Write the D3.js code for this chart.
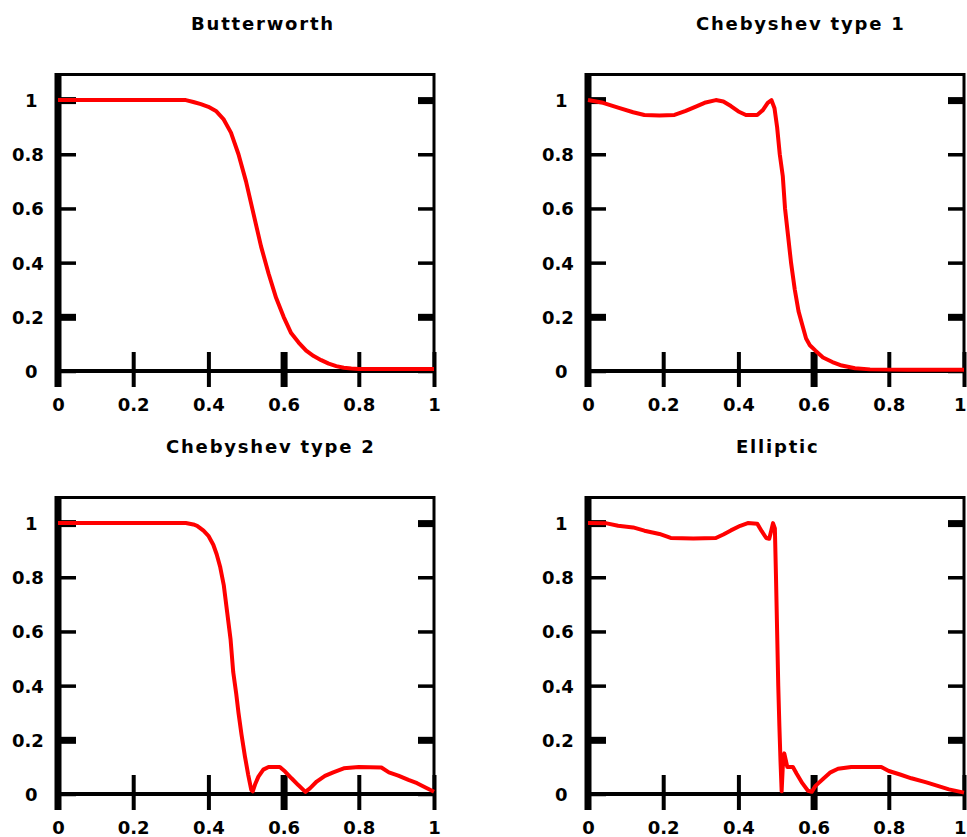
<!DOCTYPE html>
<html>
<head>
<meta charset="utf-8">
<script src="https://cdn.jsdelivr.net/npm/d3@7"></script>
<style>
  html, body { margin: 0; padding: 0; background: #fff; }
  svg { display: block; }
</style>
</head>
<body>
<script>
const TITLES = ["Butterworth", "Chebyshev type 1", "Chebyshev type 2", "Elliptic"];
const X_TICKS = [0, 0.2, 0.4, 0.6, 0.8, 1];
const Y_TICKS = [0, 0.2, 0.4, 0.6, 0.8, 1];

// [normalised frequency, |H|]
const butterworth = [
    [0, 1], [0.34, 1], [0.36, 0.993], [0.38, 0.985], [0.40, 0.975], [0.42, 0.96],
    [0.44, 0.93], [0.46, 0.88], [0.48, 0.80], [0.50, 0.70], [0.52, 0.58], [0.54, 0.46],
    [0.56, 0.36], [0.58, 0.27], [0.60, 0.20], [0.62, 0.14], [0.64, 0.105], [0.66, 0.075],
    [0.68, 0.055], [0.70, 0.04], [0.72, 0.027], [0.74, 0.018], [0.76, 0.012], [0.78, 0.009],
    [0.80, 0.007], [1, 0.007]
];
const cheby1 = [
    [0, 1], [0.04, 0.99], [0.08, 0.972], [0.12, 0.955], [0.15, 0.945], [0.19, 0.943],
    [0.23, 0.945], [0.26, 0.96], [0.29, 0.978], [0.31, 0.99], [0.34, 1.0], [0.36, 0.995],
    [0.38, 0.978], [0.40, 0.958], [0.42, 0.945], [0.45, 0.945], [0.465, 0.963], [0.478, 0.99],
    [0.488, 1.0], [0.496, 0.97], [0.503, 0.9], [0.51, 0.8], [0.518, 0.72], [0.524, 0.6],
    [0.532, 0.5], [0.54, 0.4], [0.55, 0.3], [0.56, 0.22], [0.57, 0.17], [0.58, 0.12],
    [0.59, 0.095], [0.605, 0.075], [0.625, 0.05], [0.65, 0.033], [0.675, 0.02], [0.71, 0.01],
    [0.75, 0.006], [0.85, 0.005], [1, 0.005]
];
const cheby2 = [
    [0, 1], [0.34, 1], [0.36, 0.995], [0.37, 0.99], [0.387, 0.972], [0.40, 0.953],
    [0.413, 0.92], [0.422, 0.885], [0.431, 0.84], [0.441, 0.77], [0.45, 0.67], [0.459, 0.57],
    [0.466, 0.45], [0.474, 0.37], [0.48, 0.30], [0.488, 0.22], [0.497, 0.14], [0.506, 0.07],
    [0.514, 0.015], [0.518, 0.01], [0.524, 0.035], [0.533, 0.064], [0.546, 0.09], [0.56, 0.1],
    [0.59, 0.1], [0.604, 0.083], [0.621, 0.058], [0.639, 0.033], [0.658, 0.008], [0.67, 0.021],
    [0.688, 0.046], [0.71, 0.067], [0.732, 0.08], [0.76, 0.095], [0.80, 0.1], [0.86, 0.098],
    [0.88, 0.08], [0.905, 0.068], [0.932, 0.052], [0.955, 0.04], [0.976, 0.025], [1, 0.008]
];
const elliptic = [
    [0, 1], [0.05, 0.999], [0.08, 0.99], [0.12, 0.984], [0.15, 0.972], [0.19, 0.96],
    [0.22, 0.945], [0.28, 0.943], [0.34, 0.945], [0.36, 0.958], [0.38, 0.973], [0.405, 0.99],
    [0.425, 1.0], [0.45, 0.998], [0.462, 0.97], [0.474, 0.945], [0.482, 0.942], [0.487, 0.97],
    [0.492, 1.0], [0.497, 0.98], [0.50, 0.8], [0.503, 0.6], [0.506, 0.4], [0.509, 0.25],
    [0.512, 0.12], [0.515, 0.01], [0.518, 0.1], [0.522, 0.15], [0.53, 0.1], [0.545, 0.1],
    [0.555, 0.075], [0.57, 0.04], [0.585, 0.012], [0.595, 0.008], [0.605, 0.03], [0.625, 0.055],
    [0.645, 0.08], [0.665, 0.093], [0.70, 0.1], [0.78, 0.1], [0.80, 0.085], [0.83, 0.072],
    [0.86, 0.058], [0.90, 0.043], [0.93, 0.03], [0.96, 0.017], [1, 0.005]
];
const SERIES = [butterworth, cheby1, cheby2, elliptic];

const WIDTH = 967;
const HEIGHT = 837;
const PLOT_W = 376;
const PLOT_H = 298;
const ORIGINS = [
    {left: 58, top: 73},
    {left: 588, top: 73},
    {left: 58, top: 496},
    {left: 588, top: 496}
];
const FONT = "'DejaVu Sans', sans-serif";

var svg = d3.select("body").append("svg")
    .attr("width", WIDTH)
    .attr("height", HEIGHT)
    .attr("viewBox", [0, 0, WIDTH, HEIGHT]);

SERIES.forEach(function(data, i) {
    var o = ORIGINS[i];
    var x = d3.scaleLinear().domain([0, 1]).range([0, PLOT_W]);
    var y = d3.scaleLinear().domain([0, 1.1]).range([PLOT_H, 0]);
    var g = svg.append("g").attr("transform", `translate(${o.left},${o.top})`);

    // Title - placed like the original: left edge from an estimated 10px/char width
    g.append("text")
        .text(TITLES[i])
        .attr("x", PLOT_W / 2 - TITLES[i].length * 5)
        .attr("y", -43)
        .style("font-family", FONT)
        .style("font-weight", "bold")
        .style("font-size", "18px")
        .style("letter-spacing", "1.8px");

    // Frame
    g.append("line")
        .attr("x1", x(0)).attr("x2", x(1))
        .attr("y1", y(1.1) + 1.5).attr("y2", y(1.1) + 1.5)
        .style("stroke", "black").style("stroke-width", 3);
    g.append("line")
        .attr("x1", x(1)).attr("x2", x(1))
        .attr("y1", y(1.1)).attr("y2", y(0))
        .style("stroke", "black").style("stroke-width", 3);
    g.append("line")
        .attr("x1", x(0)).attr("x2", x(1))
        .attr("y1", y(0)).attr("y2", y(0))
        .style("stroke", "black").style("stroke-width", 4);

    // Bottom axis, ticks cross the base line
    var xAxis = g.append("g")
        .attr("transform", `translate(0,${y(0)})`)
        .call(d3.axisBottom(x).tickValues(X_TICKS).tickFormat(d3.format("")).tickSize(16));
    xAxis.select(".domain").remove();
    xAxis.selectAll(".tick line")
        .attr("y1", -19).attr("y2", 16)
        .style("stroke", "black")
        .style("stroke-width", d => d === 0.6 ? 7 : 4);
    xAxis.selectAll(".tick text")
        .attr("y", 40).attr("dy", null)
        .style("font-family", FONT)
        .style("font-weight", "bold")
        .style("font-size", "18px")
        .style("fill", "black");
    // last label of the right-hand panels would run off the page: pin it to the edge
    if (o.left + x(1) + 8 > WIDTH) {
        xAxis.selectAll(".tick text")
            .filter(d => d === 1)
            .attr("text-anchor", "end")
            .attr("x", WIDTH - 1 - o.left - x(1));
    }

    // Left axis, ticks pointing inward
    var yAxis = g.append("g")
        .call(d3.axisLeft(y).tickValues(Y_TICKS).tickFormat(d3.format("")).tickSize(-18));
    yAxis.select(".domain").remove();
    yAxis.selectAll(".tick line")
        .style("stroke", "black")
        .style("stroke-width", d => (d === 0.2 || d === 1) ? 7 : 3.5);
    yAxis.selectAll(".tick text")
        .attr("text-anchor", "start")
        .attr("x", function(d) { return -26.5 - 6.5 * String(d).length; })
        .attr("dy", "0.36em")
        .style("font-family", FONT)
        .style("font-weight", "bold")
        .style("font-size", "18px")
        .style("fill", "black");

    // Right axis, ticks only
    var yAxisR = g.append("g")
        .attr("transform", `translate(${x(1)},0)`)
        .call(d3.axisRight(y).tickValues(Y_TICKS).tickFormat("").tickSize(-16));
    yAxisR.select(".domain").remove();
    yAxisR.selectAll(".tick line")
        .style("stroke", "black")
        .style("stroke-width", d => (d === 0.2 || d === 1) ? 7 : 3.5);

    // Thick left bar
    g.append("line")
        .attr("x1", x(0)).attr("x2", x(0))
        .attr("y1", y(1.1)).attr("y2", y(0) + 16)
        .style("stroke", "black").style("stroke-width", 7);

    // Response curve
    var line = d3.line()
        .x(d => x(d[0]))
        .y(d => y(d[1]));
    g.append("path")
        .datum(data)
        .attr("d", line)
        .style("fill", "none")
        .style("stroke", "#ff0000")
        .style("stroke-width", 4)
        .style("stroke-linejoin", "round");
});
</script>
</body>
</html>
